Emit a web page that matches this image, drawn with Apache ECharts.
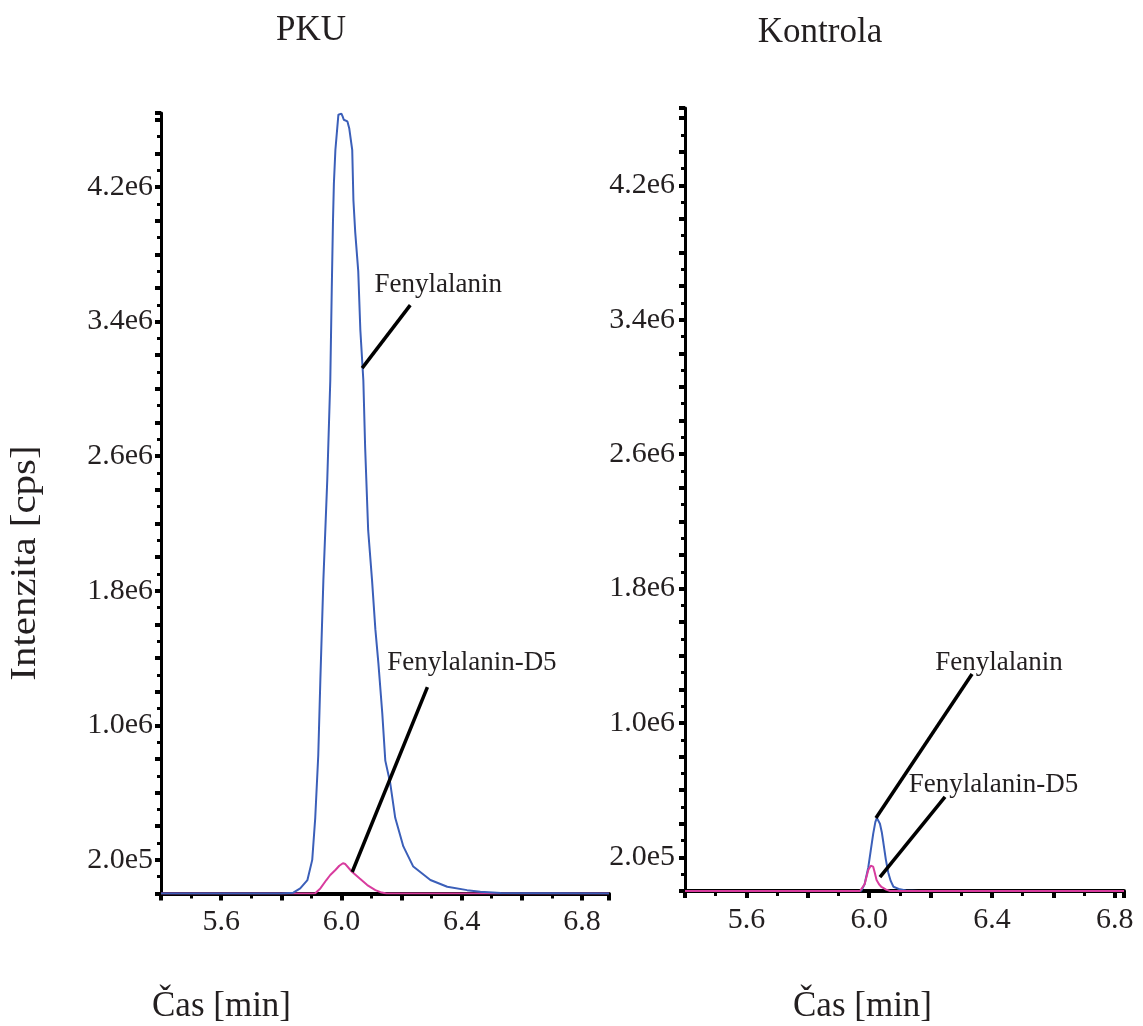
<!DOCTYPE html>
<html>
<head>
<meta charset="utf-8">
<script src="https://cdn.jsdelivr.net/npm/echarts@6/dist/echarts.min.js"></script>
<style>html,body{margin:0;padding:0;background:#fff}#c{width:1143px;height:1026px}</style>
</head>
<body>
<div id="c"></div>
<script>
// ---- data (time in min, intensity in millions of cps) ----
const pkuPheTime = [5.40, 5.80, 5.84, 5.863, 5.887, 5.903, 5.913, 5.923, 5.93, 5.94, 5.953, 5.963, 5.968, 5.972, 5.975, 5.98, 5.99, 6.0, 6.004, 6.008, 6.02, 6.026, 6.036, 6.04, 6.046, 6.056, 6.063, 6.073, 6.079, 6.089, 6.102, 6.113, 6.123, 6.136, 6.146, 6.162, 6.179, 6.206, 6.239, 6.296, 6.352, 6.418, 6.462, 6.53, 6.89];
const pkuPheVal  = [0, 0, 0.005, 0.03, 0.08, 0.2, 0.45, 0.82, 1.27, 1.86, 2.46, 3.05, 3.6, 4.0, 4.22, 4.42, 4.63, 4.636, 4.62, 4.6, 4.59, 4.55, 4.42, 4.12, 3.93, 3.7, 3.35, 3.05, 2.65, 2.16, 1.86, 1.57, 1.37, 1.07, 0.79, 0.66, 0.45, 0.28, 0.16, 0.08, 0.04, 0.02, 0.01, 0.003, 0];
const pkuD5Time  = [5.40, 5.90, 5.913, 5.93, 5.95, 5.963, 5.98, 5.993, 6.005, 6.013, 6.025, 6.036, 6.06, 6.086, 6.113, 6.13, 6.15, 6.89];
const pkuD5Val   = [0, 0, 0.002, 0.03, 0.08, 0.11, 0.14, 0.165, 0.18, 0.175, 0.15, 0.128, 0.09, 0.05, 0.02, 0.008, 0, 0];
const ctlPheTime = [5.40, 5.96, 5.974, 5.985, 5.997, 6.005, 6.013, 6.02, 6.025, 6.03, 6.035, 6.041, 6.046, 6.054, 6.062, 6.07, 6.079, 6.10, 6.12, 6.16, 6.83];
const ctlPheVal  = [0, 0, 0.002, 0.04, 0.14, 0.24, 0.34, 0.41, 0.435, 0.425, 0.40, 0.35, 0.29, 0.19, 0.11, 0.06, 0.025, 0.01, 0.003, 0, 0];
const ctlD5Time  = [5.40, 5.97, 5.976, 5.985, 5.997, 6.005, 6.013, 6.018, 6.024, 6.032, 6.04, 6.055, 6.068, 6.83];
const ctlD5Val   = [0, 0, 0.005, 0.04, 0.125, 0.15, 0.145, 0.11, 0.065, 0.04, 0.024, 0.008, 0, 0];

const panelTitles = ['PKU', 'Kontrola'];
const seriesNames = ['Fenylalanin', 'Fenylalanin-D5'];
const xTickLabels = [5.6, 6.0, 6.4, 6.8];
const yTickLabels = [0.2, 1.0, 1.8, 2.6, 3.4, 4.2];
// annotation anchors in data units: [textT, textV, lineT1, lineV1, lineT2, lineV2]
const pkuAnnPhe = [6.322, 3.617, 6.229, 3.498, 6.069, 3.123];
const pkuAnnD5  = [6.434, 1.370, 6.286, 1.227, 6.036, 0.128];
const ctlAnnPhe = [6.423, 1.357, 6.335, 1.292, 6.022, 0.435];
const ctlAnnD5  = [6.405, 0.631, 6.247, 0.560, 6.035, 0.083];

const zip = (a, b) => a.map((t, i) => [t, b[i]]);
const FONT = 'Liberation Serif';
const TXT = '#231f20';
const BLUE = '#3b5fb9';
const PINK = '#d83c9e';

function xAxis(gi, max) {
  return {
    type: 'value', gridIndex: gi, min: 5.4, max: max, interval: 0.2,
    axisLine: {show: true, onZero: false, lineStyle: {color: '#000', width: 4}},
    axisTick: {show: true, length: 7, lineStyle: {color: '#000', width: 4}},
    minorTick: {show: true, splitNumber: 2, length: 5, lineStyle: {color: '#000', width: 3}},
    splitLine: {show: false},
    axisLabel: {
      margin: 14, fontFamily: FONT, fontSize: 30, color: TXT, showMinLabel: true, showMaxLabel: true,
      formatter: v => { const r = Math.round(v * 10) / 10; return xTickLabels.some(x => Math.abs(x - r) < 1e-6) && Math.abs(v - r) < 1e-6 ? r.toFixed(1) : ''; }
    }
  };
}
function yAxis(gi, max, margin) {
  return {
    type: 'value', gridIndex: gi, min: 0, max: max, interval: 0.2,
    axisLine: {show: true, lineStyle: {color: '#000', width: 3}},
    axisTick: {show: true, length: 6, lineStyle: {color: '#000', width: 4}},
    minorTick: {show: true, splitNumber: 2, length: 4, lineStyle: {color: '#000', width: 3}},
    splitLine: {show: false},
    axisLabel: {
      margin: margin, fontFamily: FONT, fontSize: 30, color: TXT,
      formatter: v => {
        const r = Math.round(v * 10) / 10;
        if (Math.abs(v - r) > 1e-6 || !yTickLabels.some(y => Math.abs(y - r) < 1e-6)) return '';
        return r < 1 ? (r * 10).toFixed(1) + 'e5' : r.toFixed(1) + 'e6';
      }
    }
  };
}
function annot(a, name) {
  return {
    markLine: {
      silent: true, symbol: ['none', 'none'], animation: false,
      lineStyle: {color: '#000', width: 3.5, type: 'solid'},
      label: {show: false},
      data: [[{coord: [a[2], a[3]]}, {coord: [a[4], a[5]]}]]
    },
    markPoint: {
      silent: true, symbol: 'circle', symbolSize: 0, animation: false,
      label: {show: true, position: 'inside', formatter: name, fontFamily: FONT, fontSize: 27, color: TXT},
      data: [{coord: [a[0], a[1]]}]
    }
  };
}
function line(gi, name, data, color, ann) {
  return Object.assign({
    type: 'line', name: name, xAxisIndex: gi, yAxisIndex: gi, data: data,
    showSymbol: false, symbol: 'none', lineStyle: {color: color, width: 2}, itemStyle: {color: color},
    animation: false, z: 3
  }, annot(ann, name));
}

const chart = echarts.init(document.getElementById('c'), null, {renderer: 'canvas'});
chart.setOption({
  backgroundColor: '#fff',
  animation: false,
  grid: [
    {left: 161, top: 113, width: 448, height: 780.5},
    {left: 685, top: 108, width: 439, height: 783}
  ],
  xAxis: [xAxis(0, 6.89), xAxis(1, 6.83)],
  yAxis: [yAxis(0, 4.64, 8), yAxis(1, 4.66, 10)],
  series: [
    line(0, seriesNames[1], zip(pkuD5Time, pkuD5Val), PINK, pkuAnnD5),
    line(0, seriesNames[0], zip(pkuPheTime, pkuPheVal), BLUE, pkuAnnPhe),
    line(1, seriesNames[0], zip(ctlPheTime, ctlPheVal), BLUE, ctlAnnPhe),
    line(1, seriesNames[1], zip(ctlD5Time, ctlD5Val), PINK, ctlAnnD5)
  ],
  graphic: [
    {type: 'text', x: 311, y: 31, style: {text: panelTitles[0], font: '35px "Liberation Serif"', fill: TXT, align: 'center', verticalAlign: 'middle'}},
    {type: 'text', x: 820, y: 33, style: {text: panelTitles[1], font: '35px "Liberation Serif"', fill: TXT, align: 'center', verticalAlign: 'middle'}},
    {type: 'text', x: 152, y: 1007, style: {text: 'Čas [min]', font: '35px "Liberation Serif"', fill: TXT, align: 'left', verticalAlign: 'middle'}},
    {type: 'text', x: 793, y: 1007, style: {text: 'Čas [min]', font: '35px "Liberation Serif"', fill: TXT, align: 'left', verticalAlign: 'middle'}},
    {type: 'text', x: 26, y: 563, rotation: Math.PI / 2, scaleX: 1.17,
     style: {text: 'Intenzita [cps]', font: '35px "Liberation Serif"', fill: TXT, align: 'center', verticalAlign: 'middle'}}
  ]
});
</script>
</body>
</html>
